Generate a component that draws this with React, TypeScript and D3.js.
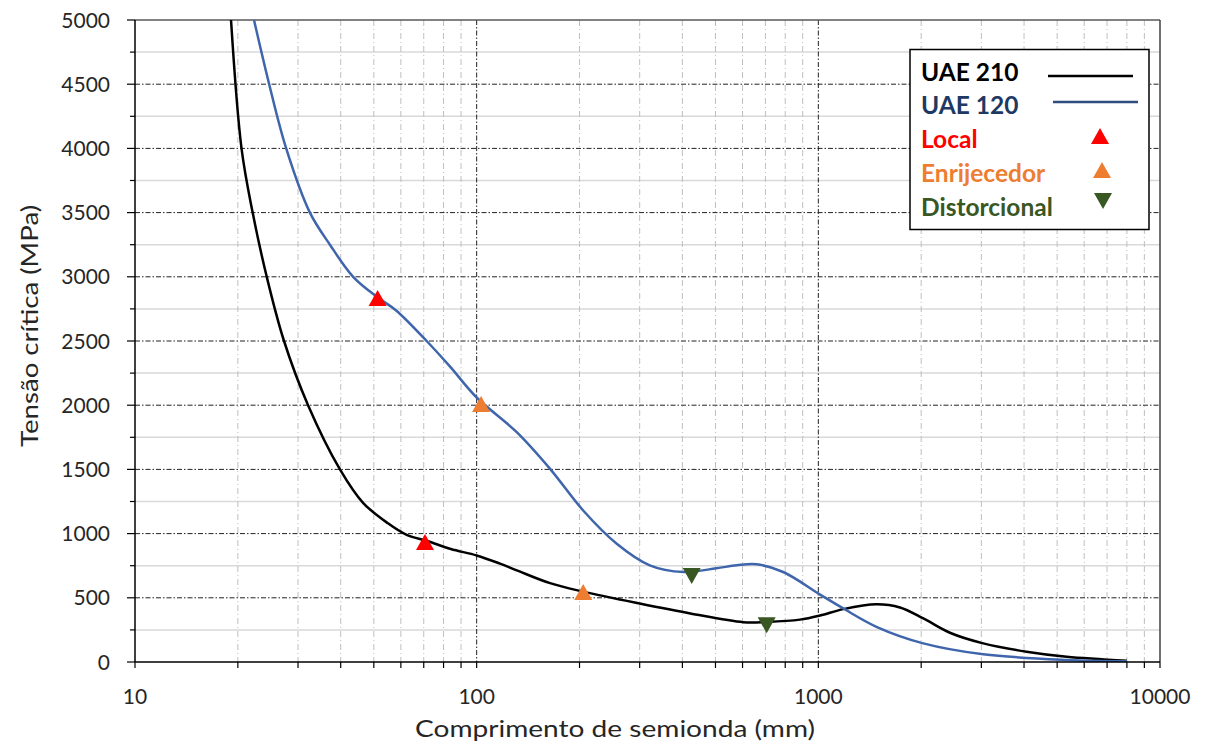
import * as d3 from "d3";

const WIDTH = 1205;
const HEIGHT = 744;

// curves: [half-wavelength mm, stress MPa]
const uae210: [number, number][] = [
  [19.1, 5000], [20.5, 4000], [22.1, 3500], [24.3, 3000], [27.3, 2500], [32.1, 2000],
  [39.8, 1500], [46.5, 1240], [55, 1080], [62.4, 990], [72, 940], [84, 880], [100, 830],
  [117, 766], [131, 714], [164, 614], [205, 548], [300, 455], [422, 378], [603, 310],
  [706, 312], [883, 330], [1012, 362], [1183, 412], [1479, 450], [1734, 425], [2029, 339],
  [2427, 228], [3040, 145], [4067, 80], [5330, 41], [8000, 10],
];

const uae120: [number, number][] = [
  [22.3, 5000], [24.7, 4500], [27.7, 4000], [32.5, 3500], [37.2, 3250], [43.5, 3000],
  [51.3, 2840], [58, 2740], [71.4, 2500], [83.6, 2300], [100, 2060], [131, 1790],
  [164, 1504], [205, 1180], [257, 921], [321, 753], [403, 701], [503, 730], [577, 753],
  [659, 761], [789, 701], [1012, 525], [1183, 417], [1479, 274], [2029, 145], [3040, 60],
  [5330, 16], [8000, 5],
];

const localPts: [number, number][] = [[51.3, 2834], [70.6, 934]];
const enrijPts: [number, number][] = [[103, 2010], [205, 546]];
const distPts: [number, number][] = [[426, 670], [706, 287]];

const yTicks = [0, 500, 1000, 1500, 2000, 2500, 3000, 3500, 4000, 4500, 5000];
const yMinor = [250, 750, 1250, 1750, 2250, 2750, 3250, 3750, 4250, 4750];
const xMajor = [10, 100, 1000, 10000];
const xMinor = [
  20, 30, 40, 50, 60, 70, 80, 90, 200, 300, 400, 500, 600, 700, 800, 900,
  2000, 3000, 4000, 5000, 6000, 7000, 8000, 9000,
];

const C_BLACK = "#000000";
const C_BLUE = "#3F65AC";
const C_BLUE_DARK = "#203864";
const C_RED = "#FF0000";
const C_ORANGE = "#ED7D31";
const C_GREEN = "#385723";

const FONT = "Lato, 'Open Sans', sans-serif";

function tri(cx: number, cy: number, up: boolean) {
  const w = 9, h = 8;
  return up
    ? `M${cx},${cy - h}L${cx + w},${cy + h}L${cx - w},${cy + h}Z`
    : `M${cx},${cy + h}L${cx + w},${cy - h}L${cx - w},${cy - h}Z`;
}

export default function App() {
  const x = d3.scaleLog().domain([10, 10000]).range([135, 1160]);
  const y = d3.scaleLinear().domain([0, 5000]).range([662, 20]);
  const [x0, x1] = x.range();
  const [y0, y1] = y.range();

  const line = d3
    .line<[number, number]>()
    .x((d) => x(d[0]))
    .y((d) => y(d[1]))
    .curve(d3.curveCatmullRom.alpha(0.5));

  return (
    <svg width={WIDTH} height={HEIGHT} style={{ position: "absolute", left: 0, top: 0 }}>
      <rect width={WIDTH} height={HEIGHT} fill="#fff" />
      <defs>
        <clipPath id="plot">
          <rect x={x0} y={y1} width={x1 - x0} height={y0 - y1} />
        </clipPath>
      </defs>

      {/* minor horizontal grid */}
      {yMinor.map((v) => (
        <line key={"ym" + v} x1={x0} x2={x1} y1={y(v)} y2={y(v)} stroke="#D9D9D9" strokeWidth={1.5} />
      ))}
      {/* minor vertical grid */}
      {xMinor.map((v) => (
        <line key={"xm" + v} x1={x(v)} x2={x(v)} y1={y1} y2={y0} stroke="#BFBFBF" strokeWidth={1} strokeDasharray="6,3,1,3" />
      ))}
      {/* major grid */}
      {yTicks.slice(1, -1).map((v) => (
        <line key={"yM" + v} x1={x0} x2={x1} y1={y(v)} y2={y(v)} stroke="#222" strokeWidth={1} strokeDasharray="5,2,1.5,2" />
      ))}
      {xMajor.slice(1, -1).map((v) => (
        <line key={"xM" + v} x1={x(v)} x2={x(v)} y1={y1} y2={y0} stroke="#222" strokeWidth={1} strokeDasharray="5,2,1.5,2" />
      ))}

      {/* frame */}
      <line x1={x0} x2={x1} y1={y1} y2={y1} stroke="#595959" strokeWidth={1.5} />
      <line x1={x1} x2={x1} y1={y1} y2={y0} stroke="#404040" strokeWidth={1.5} />

      {/* curves */}
      <g clipPath="url(#plot)">
        <path d={line(uae210) ?? ""} fill="none" stroke={C_BLACK} strokeWidth={2.5} />
        <path d={line(uae120) ?? ""} fill="none" stroke={C_BLUE} strokeWidth={2.5} />
      </g>

      {/* markers */}
      {localPts.map((d, i) => (
        <path key={"l" + i} d={tri(x(d[0]), y(d[1]), true)} fill={C_RED} />
      ))}
      {enrijPts.map((d, i) => (
        <path key={"e" + i} d={tri(x(d[0]), y(d[1]), true)} fill={C_ORANGE} />
      ))}
      {distPts.map((d, i) => (
        <path key={"d" + i} d={tri(x(d[0]), y(d[1]), false)} fill={C_GREEN} />
      ))}

      {/* axes */}
      <line x1={x0} x2={x0} y1={y1} y2={y0} stroke="#000" strokeWidth={1.5} />
      <line x1={x0} x2={x1} y1={y0} y2={y0} stroke="#000" strokeWidth={1.5} />
      {yTicks.map((v) => (
        <line key={"yt" + v} x1={x0 - 8} x2={x0} y1={y(v)} y2={y(v)} stroke="#000" strokeWidth={1.2} />
      ))}
      {yMinor.map((v) => (
        <line key={"ytm" + v} x1={x0 - 5} x2={x0} y1={y(v)} y2={y(v)} stroke="#000" strokeWidth={1.2} />
      ))}
      {[...xMajor, ...xMinor].map((v) => (
        <line key={"xt" + v} x1={x(v)} x2={x(v)} y1={y0} y2={y0 + 6} stroke="#000" strokeWidth={1.2} />
      ))}

      {yTicks.map((v) => (
        <text key={"yl" + v} x={110} y={y(v)} dy="0.36em" textAnchor="end" fontFamily={FONT} fontSize={21} fill="#262626">
          {v}
        </text>
      ))}
      {xMajor.map((v) => (
        <text key={"xl" + v} x={x(v)} y={704} textAnchor="middle" fontFamily={FONT} fontSize={21} fill="#262626">
          {v}
        </text>
      ))}

      <text x={615} y={737} textAnchor="middle" fontFamily={FONT} fontSize={24} fill="#262626" textLength={400} lengthAdjust="spacingAndGlyphs">
        Comprimento de semionda (mm)
      </text>
      <text transform="translate(38,326) rotate(-90)" textAnchor="middle" fontFamily={FONT} fontSize={24} fill="#262626" textLength={242} lengthAdjust="spacingAndGlyphs">
        Tensão crítica (MPa)
      </text>

      {/* legend */}
      <rect x={910} y={49.5} width={239} height={180} fill="#fff" stroke="#000" strokeWidth={1.5} />
      <g fontFamily={FONT} fontWeight="bold" fontSize={24.5}>
        <text x={921} y={81} fill={C_BLACK}>UAE 210</text>
        <text x={921} y={114} fill={C_BLUE_DARK}>UAE 120</text>
        <text x={921} y={148} fill={C_RED}>Local</text>
        <text x={921} y={182} fill={C_ORANGE}>Enrijecedor</text>
        <text x={921} y={216} fill={C_GREEN}>Distorcional</text>
      </g>
      <line x1={1048} x2={1133} y1={76} y2={76} stroke={C_BLACK} strokeWidth={2.5} />
      <line x1={1053} x2={1138} y1={102} y2={102} stroke="#2F4C80" strokeWidth={2.5} />
      <path d={tri(1100, 136, true)} fill={C_RED} />
      <path d={tri(1102, 170, true)} fill={C_ORANGE} />
      <path d={tri(1103, 201, false)} fill={C_GREEN} />
    </svg>
  );
}
